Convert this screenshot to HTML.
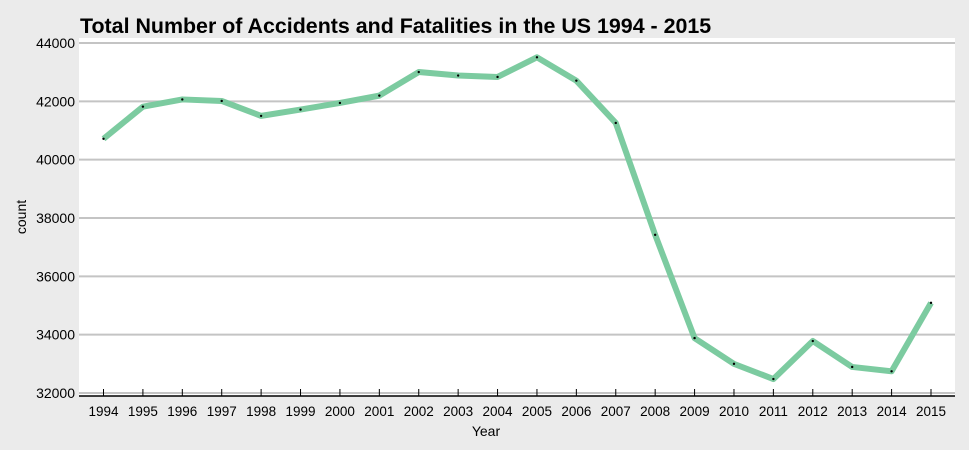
<!DOCTYPE html>
<html><head><meta charset="utf-8"><style>
body{margin:0;background:#ebebeb;}
svg{display:block;font-family:"Liberation Sans",sans-serif;}
</style></head><body>
<svg id="chart" width="969" height="450">
<rect x="0" y="0" width="969" height="450" fill="#ebebeb"/>
<rect x="79" y="38" width="876" height="358" fill="#ffffff"/>
<text x="80" y="33" font-size="21.4" font-weight="bold" fill="#000">Total Number of Accidents and Fatalities in the US 1994 - 2015</text>
<g id="grid"></g><g id="yticks"></g><g id="xticks"></g><g id="series"></g>
<text x="486" y="436" font-size="14" text-anchor="middle">Year</text>
<text transform="translate(26,217) rotate(-90)" font-size="14" text-anchor="middle">count</text>
</svg>
<script>
const years=[1994,1995,1996,1997,1998,1999,2000,2001,2002,2003,2004,2005,2006,2007,2008,2009,2010,2011,2012,2013,2014,2015];
const counts=[40716,41817,42065,42013,41501,41717,41945,42196,43005,42884,42836,43510,42708,41259,37423,33883,32999,32479,33782,32893,32744,35092];
const yTicks=[32000,34000,36000,38000,40000,42000,44000];
const NS="http://www.w3.org/2000/svg";
function x(i){return 103.5+i*(931-103.5)/(years.length-1);}
function y(v){return 393-(v-32000)*(350/12000);}
function mk(t,a,p){const e=document.createElementNS(NS,t);for(const k in a)e.setAttribute(k,a[k]);p.appendChild(e);return e;}
const grid=document.getElementById('grid'),yt=document.getElementById('yticks'),xt=document.getElementById('xticks'),s=document.getElementById('series');
yTicks.forEach(v=>{
 const l=mk('line',{x1:79,x2:955,y1:y(v),y2:y(v),stroke:'#c4c4c4','stroke-width':2},grid);
 
 
 const t=mk('text',{x:75,y:y(v)+5,'font-size':14,'text-anchor':'end'},yt);t.textContent=v;
 
 
});
const ax=mk('line',{x1:79,x2:955,y1:396,y2:396,stroke:'#000','stroke-width':1.5},xt);


years.forEach((yr,i)=>{
 const tk=mk('line',{x1:x(i),x2:x(i),y1:389,y2:396,stroke:'#000','stroke-width':1},xt);
 
 
 const t=mk('text',{x:x(i),y:416,'font-size':13.5,'text-anchor':'middle'},xt);t.textContent=yr;
 
 
});
const pl=mk('polyline',{points:counts.map((v,i)=>x(i)+','+y(v)).join(' '),fill:'none',stroke:'#7ccba0','stroke-width':6,'stroke-linejoin':'round'},s);


counts.forEach((v,i)=>{
 const c=mk('circle',{cx:x(i),cy:y(v),r:1.2,fill:'#000'},s);
 
 
});
</script>
</body></html>
